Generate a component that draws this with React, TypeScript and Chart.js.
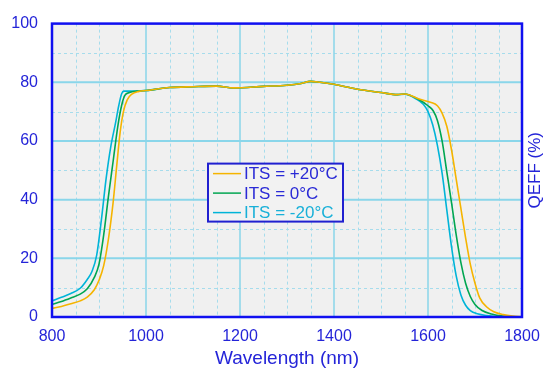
import React, { useEffect, useRef } from "react";
import { Chart, registerables } from "chart.js";

Chart.register(...registerables);

// Wavelength (nm) and quantum efficiency (%) per temperature
const wlPlus20 = [800, 820, 840, 860, 875, 890, 900, 910, 920, 930, 938, 945, 952, 960, 970, 985, 1000, 1050, 1100, 1150, 1186, 1250, 1300, 1330, 1350, 1370, 1400, 1450, 1500, 1535, 1550, 1583, 1605, 1620, 1630, 1640, 1650, 1660, 1670, 1680, 1690, 1700, 1710, 1725, 1740, 1760, 1780, 1800];
const qePlus20 = [2.9, 3.6, 4.5, 5.5, 6.8, 9.3, 12.5, 17.5, 26.5, 39, 52, 63, 70, 74, 76, 76.9, 77.2, 78.2, 78.5, 78.7, 78.1, 78.6, 79.0, 79.6, 80.3, 80.0, 79.3, 77.6, 76.5, 75.8, 76.0, 74.2, 73.2, 72, 69.5, 65, 57, 47, 37, 27, 18, 11.5, 6.5, 3.4, 1.8, 0.8, 0.3, 0.1];

const wl0 = [800, 820, 840, 860, 875, 890, 900, 910, 920, 930, 940, 948, 955, 965, 980, 1000, 1050, 1100, 1150, 1186, 1250, 1300, 1330, 1350, 1370, 1400, 1450, 1500, 1535, 1550, 1583, 1600, 1611, 1620, 1630, 1640, 1650, 1660, 1670, 1680, 1690, 1700, 1715, 1735, 1760, 1800];
const qe0 = [4.3, 5.3, 6.5, 7.8, 9.6, 13.5, 18, 28, 41, 53, 65, 72, 75.5, 76.5, 77, 77.2, 78.2, 78.5, 78.7, 78.1, 78.6, 79.0, 79.6, 80.3, 80.0, 79.3, 77.6, 76.5, 75.8, 76.0, 73.9, 72, 70.3, 67, 60, 49.5, 39, 28, 18.5, 11.5, 7, 4.3, 2.2, 1, 0.3, 0];

const wlMinus20 = [800, 820, 840, 860, 875, 885, 895, 905, 915, 925, 935, 942, 948, 953, 965, 984, 1000, 1050, 1100, 1150, 1186, 1250, 1300, 1330, 1350, 1370, 1400, 1450, 1500, 1535, 1550, 1575, 1590, 1600, 1610, 1620, 1630, 1640, 1650, 1660, 1670, 1680, 1690, 1705, 1725, 1760, 1800];
const qeMinus20 = [5.5, 6.7, 8, 9.8, 12.8, 15.5, 21, 33, 47, 58, 66, 72, 76, 77, 77, 77, 77.2, 78.2, 78.5, 78.7, 78.1, 78.6, 79.0, 79.6, 80.3, 80.0, 79.3, 77.6, 76.5, 75.8, 75.9, 74.3, 72.5, 70, 65.5, 58.5, 49, 36.5, 24, 14, 7.5, 4, 2.2, 1.1, 0.5, 0.1, 0];

const seriesLabels = ["ITS = +20°C", "ITS = 0°C", "ITS = -20°C"];
const seriesColors = ["#f5b400", "#00a651", "#00b4d8"];
const legendTextColors = ["#2a2ad6", "#2a2ad6", "#18b0d8"];

const xTicks = [800, 1000, 1200, 1400, 1600, 1800];
const yTicks = [0, 20, 40, 60, 80, 100];
const xMinorGrid = [850, 900, 950, 1050, 1100, 1150, 1250, 1300, 1350, 1450, 1500, 1550, 1650, 1700, 1750];
const yMinorGrid = [10, 30, 50, 70, 90];

const FONT = "'Liberation Sans', Arial, sans-serif";
const BLUE = "#2424d8";

const toPoints = (xs: number[], ys: number[]) => xs.map((x, i) => ({ x, y: ys[i] }));

const gridPlugin = {
  id: "bgGrid",
  beforeDatasetsDraw(chart: any) {
    const { ctx, chartArea, scales } = chart;
    const { left, right, top, bottom } = chartArea;
    const x = scales.x;
    const y = scales.y;
    ctx.save();
    ctx.fillStyle = "#f0f0f0";
    ctx.fillRect(left, top, right - left, bottom - top);
    ctx.strokeStyle = "#a6dcec";
    ctx.lineWidth = 1;
    ctx.setLineDash([3, 3]);
    xMinorGrid.forEach((v) => {
      const px = Math.round(x.getPixelForValue(v)) + 0.5;
      ctx.beginPath();
      ctx.moveTo(px, top);
      ctx.lineTo(px, bottom);
      ctx.stroke();
    });
    yMinorGrid.forEach((v) => {
      const py = Math.round(y.getPixelForValue(v)) + 0.5;
      ctx.beginPath();
      ctx.moveTo(left, py);
      ctx.lineTo(right, py);
      ctx.stroke();
    });
    ctx.setLineDash([]);
    ctx.strokeStyle = "#8ad6ea";
    ctx.lineWidth = 1.5;
    xTicks.slice(1, -1).forEach((v) => {
      const px = x.getPixelForValue(v);
      ctx.beginPath();
      ctx.moveTo(px, top);
      ctx.lineTo(px, bottom);
      ctx.stroke();
    });
    ctx.lineWidth = 2;
    yTicks.slice(1, -1).forEach((v) => {
      const py = y.getPixelForValue(v);
      ctx.beginPath();
      ctx.moveTo(left, py);
      ctx.lineTo(right, py);
      ctx.stroke();
    });
    ctx.restore();
  },
  afterDatasetsDraw(chart: any) {
    const { ctx, chartArea } = chart;
    const { left, right, top, bottom } = chartArea;
    ctx.save();
    ctx.strokeStyle = "#1010f0";
    ctx.lineWidth = 2.5;
    ctx.strokeRect(left, top, right - left, bottom - top);

    const bx = left + 156;
    const by = top + 140;
    const bw = 135;
    const bh = 58;
    ctx.fillStyle = "#f2f2f2";
    ctx.fillRect(bx, by, bw, bh);
    ctx.strokeStyle = "#2020d0";
    ctx.lineWidth = 2;
    ctx.strokeRect(bx, by, bw, bh);
    ctx.font = `17px ${FONT}`;
    ctx.textBaseline = "middle";
    ctx.textAlign = "left";
    seriesLabels.forEach((lab, i) => {
      const ry = by + 10 + i * 19.5;
      ctx.strokeStyle = seriesColors[i];
      ctx.lineWidth = 1.5;
      ctx.beginPath();
      ctx.moveTo(bx + 5, ry);
      ctx.lineTo(bx + 33, ry);
      ctx.stroke();
      ctx.fillStyle = legendTextColors[i];
      ctx.fillText(lab, bx + 36, ry + 1);
    });

    ctx.translate(535.5, (top + bottom) / 2);
    ctx.rotate(-Math.PI / 2);
    ctx.textAlign = "center";
    ctx.textBaseline = "middle";
    ctx.fillStyle = BLUE;
    ctx.font = `17px ${FONT}`;
    ctx.fillText("QEFF (%)", 0, 0);
    ctx.restore();
  },
};

export default function App() {
  const ref = useRef<HTMLCanvasElement | null>(null);
  useEffect(() => {
    if (!ref.current) return;
    const chart = new Chart(ref.current, {
      type: "line",
      data: {
        datasets: [
          { label: seriesLabels[0], data: toPoints(wlPlus20, qePlus20), borderColor: seriesColors[0] },
          { label: seriesLabels[1], data: toPoints(wl0, qe0), borderColor: seriesColors[1] },
          { label: seriesLabels[2], data: toPoints(wlMinus20, qeMinus20), borderColor: seriesColors[2] },
        ].map((d) => ({
          ...d,
          borderWidth: 1.6,
          pointRadius: 0,
          fill: false,
          cubicInterpolationMode: "monotone" as const,
        })),
      },
      options: {
        animation: false,
        responsive: true,
        maintainAspectRatio: false,
        layout: { padding: { left: 0, right: 32, top: 18, bottom: 0 } },
        plugins: { legend: { display: false }, tooltip: { enabled: false } },
        scales: {
          x: {
            type: "linear",
            min: 800,
            max: 1800,
            afterBuildTicks: (s: any) => {
              s.ticks = xTicks.map((v) => ({ value: v }));
            },
            afterFit: (s: any) => {
              s.height = 72;
            },
            grid: { display: false, drawTicks: false },
            border: { display: false },
            ticks: {
              color: BLUE,
              font: { family: FONT, size: 16 },
              padding: 10,
              maxRotation: 0,
              autoSkip: false,
              callback: (v: any) => String(v),
            },
            title: {
              display: true,
              text: "Wavelength (nm)",
              color: BLUE,
              font: { family: FONT, size: 19 },
              padding: { top: 0, bottom: 19 },
            },
          },
          y: {
            type: "linear",
            min: 0,
            max: 100,
            afterBuildTicks: (s: any) => {
              s.ticks = yTicks.map((v) => ({ value: v }));
            },
            afterFit: (s: any) => {
              s.width = 52;
            },
            grid: { display: false, drawTicks: false },
            border: { display: false },
            ticks: {
              color: BLUE,
              font: { family: FONT, size: 16 },
              padding: 14,
              callback: (v: any) => String(v),
            },
          },
        },
      },
      plugins: [gridPlugin],
    });
    return () => chart.destroy();
  }, []);
  return (
    <div style={{ position: "fixed", left: 0, top: 0, width: 554, height: 389, background: "#fff" }}>
      <canvas ref={ref} />
    </div>
  );
}
